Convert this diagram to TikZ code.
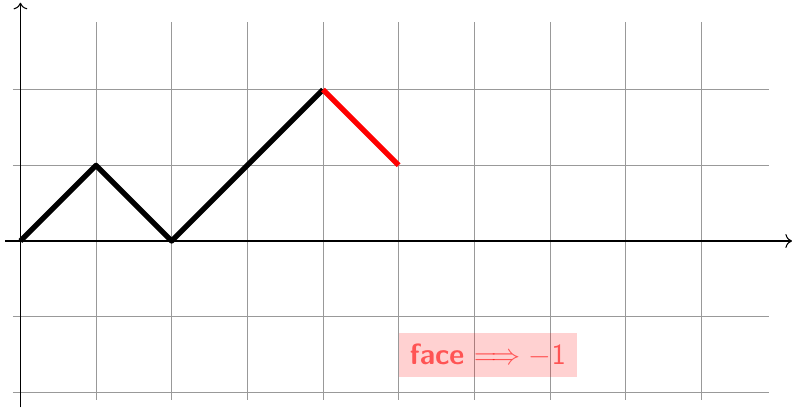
\documentclass[tikz,border=0pt]{standalone}
\usepackage{amsmath,amssymb}
\usepackage{tikz}
\usetikzlibrary{positioning,calc,arrows.meta}

\begin{document}
\begin{tikzpicture}[
    x=1cm, y=1cm,
    gridline/.style={gray!80, very thin},
    axis/.style={->, thin},
    walk/.style={line width=2pt, line join=round},
    tag/.style={fill=red, fill opacity=0.18, text opacity=0.6, text=red, font=\fontsize{11}{13}\selectfont, inner sep=4pt, minimum height=0.58cm}
]
    \useasboundingbox (-0.27,-2.195) rectangle (10.2,3.186);

    % --- Grid and axes ---
    \draw[gridline] (-0.1,-2.1) grid (9.9,2.9);
    \coordinate (xs) at (-0.2,0);
    \coordinate (xe) at (10.2,0);
    \coordinate (ys) at (0,-2.2);
    \coordinate (ye) at (0,3.15);
    \draw[axis] (xs) -- (xe);
    \draw[axis] (ys) -- (ye);

    % --- Path ---
    \coordinate (p0) at (0,0);
    \coordinate (p1) at (1,1);
    \coordinate (p2) at (2,0);
    \coordinate (p3) at (4,2);
    \coordinate (p4) at (5,1);
    \draw[walk, black] (p0) -- (p1) -- (p2) -- (p3);
    \draw[walk, red] (p3) -- (p4);

    % --- Label ---
    \node[tag] (lbl) at (6.18,-1.51) {\textsf{\bfseries face} $\Longrightarrow -\textsf{1}$};
\end{tikzpicture}
\end{document}
